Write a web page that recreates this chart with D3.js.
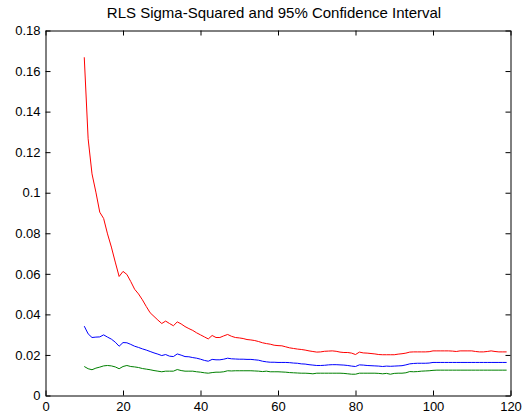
<!DOCTYPE html>
<html><head><meta charset="utf-8">
<script src="https://cdn.jsdelivr.net/npm/d3@7"></script>
<style>body{margin:0;background:#fff;} text{font-family:"Liberation Sans",Arial,sans-serif;}</style>
</head><body>
<svg id="c" width="528" height="415"></svg>
<script>
const title = "RLS Sigma-Squared and 95% Confidence Interval";
const xTicks = [0, 20, 40, 60, 80, 100, 120];
const yTicks = [0, 0.02, 0.04, 0.06, 0.08, 0.1, 0.12, 0.14, 0.16, 0.18];
const yTickLabels = ["0", "0.02", "0.04", "0.06", "0.08", "0.1", "0.12", "0.14", "0.16", "0.18"];
const xStart = 10;
// upper bound (red), x = 10..119
const upper = [
 0.1668,0.1266,0.1093,0.1003,0.0904,0.0873,0.0797,0.0732,0.0658,0.0587,
 0.0612,0.0597,0.0562,0.0524,0.0501,0.0472,0.0439,0.0408,0.0390,0.0372,
 0.0355,0.0367,0.0355,0.0344,0.0363,0.0353,0.0340,0.0330,0.0321,0.0309,
 0.0299,0.0289,0.0279,0.0296,0.0286,0.0286,0.0294,0.0301,0.0292,0.0286,
 0.0284,0.0281,0.0276,0.0274,0.0271,0.0266,0.0260,0.0256,0.0253,0.0248,
 0.0246,0.0245,0.0240,0.0235,0.0232,0.0229,0.0227,0.0224,0.0220,0.0217,
 0.0214,0.0215,0.0218,0.0219,0.0220,0.0218,0.0214,0.0212,0.0212,0.0209,
 0.0202,0.0214,0.0210,0.0209,0.0207,0.0205,0.0202,0.0201,0.0201,0.0201,
 0.0201,0.0204,0.0206,0.0209,0.0214,0.0215,0.0215,0.0215,0.0215,0.0216,
 0.0220,0.0220,0.0220,0.0220,0.0220,0.0219,0.0217,0.0220,0.0220,0.0220,
 0.0220,0.0217,0.0215,0.0215,0.0217,0.0220,0.0217,0.0215,0.0215,0.0215
];
// estimate (blue)
const estimate = [
 0.0342,0.0304,0.0286,0.0288,0.0289,0.0299,0.0288,0.0278,0.0263,0.0243,
 0.0261,0.0260,0.0252,0.0243,0.0237,0.0230,0.0224,0.0217,0.0210,0.0204,
 0.0197,0.0202,0.0194,0.0192,0.0205,0.0199,0.0192,0.0191,0.0187,0.0184,
 0.0179,0.0173,0.0169,0.0178,0.0176,0.0176,0.0179,0.0184,0.0181,0.0180,
 0.0179,0.0179,0.0178,0.0178,0.0176,0.0174,0.0169,0.0166,0.0164,0.0164,
 0.0163,0.0163,0.0163,0.0162,0.0160,0.0159,0.0156,0.0155,0.0152,0.0150,
 0.0148,0.0148,0.0149,0.0151,0.0152,0.0152,0.0151,0.0150,0.0148,0.0145,
 0.0143,0.0151,0.0150,0.0148,0.0147,0.0146,0.0145,0.0143,0.0145,0.0144,
 0.0145,0.0146,0.0147,0.0151,0.0156,0.0158,0.0159,0.0159,0.0159,0.0160,
 0.0163,0.0163,0.0163,0.0163,0.0163,0.0163,0.0163,0.0163,0.0163,0.0163,
 0.0163,0.0163,0.0163,0.0163,0.0163,0.0163,0.0163,0.0163,0.0163,0.0163
];
// lower bound (green)
const lower = [
 0.0143,0.0132,0.0127,0.0135,0.0140,0.0146,0.0148,0.0146,0.0141,0.0132,
 0.0143,0.0148,0.0143,0.0141,0.0138,0.0133,0.0130,0.0127,0.0123,0.0120,
 0.0117,0.0120,0.0120,0.0120,0.0128,0.0123,0.0120,0.0120,0.0120,0.0117,
 0.0115,0.0112,0.0110,0.0113,0.0115,0.0115,0.0117,0.0122,0.0121,0.0122,
 0.0122,0.0122,0.0122,0.0122,0.0121,0.0120,0.0118,0.0120,0.0117,0.0117,
 0.0117,0.0116,0.0115,0.0113,0.0112,0.0111,0.0110,0.0110,0.0109,0.0107,
 0.0110,0.0110,0.0110,0.0110,0.0110,0.0110,0.0110,0.0109,0.0107,0.0105,
 0.0105,0.0110,0.0110,0.0110,0.0110,0.0110,0.0109,0.0107,0.0109,0.0105,
 0.0109,0.0110,0.0110,0.0112,0.0118,0.0117,0.0118,0.0120,0.0121,0.0122,
 0.0124,0.0125,0.0125,0.0125,0.0125,0.0125,0.0125,0.0125,0.0125,0.0125,
 0.0125,0.0125,0.0125,0.0125,0.0125,0.0125,0.0125,0.0125,0.0125,0.0125
];
const seriesColors = ["#ff0000", "#0000ff", "#008000"];

const L = 45.5, R = 510.5, T = 30.5, B = 395.5;
const svg = d3.select("#c");
const x = d3.scaleLinear().domain([0, 120]).range([L, R]);
const y = d3.scaleLinear().domain([0, 0.18]).range([B, T]);
const tl = 5;

const fnt = 13;
// bottom axis
const gb = svg.append("g").attr("transform", `translate(0,${B})`)
  .call(d3.axisBottom(x).tickValues(xTicks).tickSize(-tl).tickPadding(6).tickSizeOuter(0));
// left axis
const gl = svg.append("g").attr("transform", `translate(${L},0)`)
  .call(d3.axisLeft(y).tickValues(yTicks).tickFormat((d, i) => yTickLabels[i]).tickSize(-tl).tickPadding(5).tickSizeOuter(0));
// top axis
const gt = svg.append("g").attr("transform", `translate(0,${T})`)
  .call(d3.axisTop(x).tickValues(xTicks).tickSize(-tl).tickFormat("").tickSizeOuter(0));
// right axis
const gr = svg.append("g").attr("transform", `translate(${R},0)`)
  .call(d3.axisRight(y).tickValues(yTicks).tickSize(-tl).tickFormat("").tickSizeOuter(0));
[gb, gl, gt, gr].forEach(g => {
  g.selectAll("text").attr("font-size", fnt).attr("fill", "#000").attr("font-family", "Liberation Sans, Arial, sans-serif");
  g.selectAll("line").attr("stroke", "#000");
  g.select(".domain").attr("stroke", "#000");
});

const line = d3.line().x((d, i) => x(xStart + i)).y(d => y(d));
[upper, estimate, lower].forEach((s, k) => {
  svg.append("path").datum(s).attr("d", line).attr("fill", "none")
    .attr("stroke", seriesColors[k]).attr("stroke-width", 1);
});

svg.append("text").attr("x", 274).attr("y", 18).attr("text-anchor", "middle")
  .attr("font-size", 15).attr("fill", "#000").text(title);
</script>
</body></html>
